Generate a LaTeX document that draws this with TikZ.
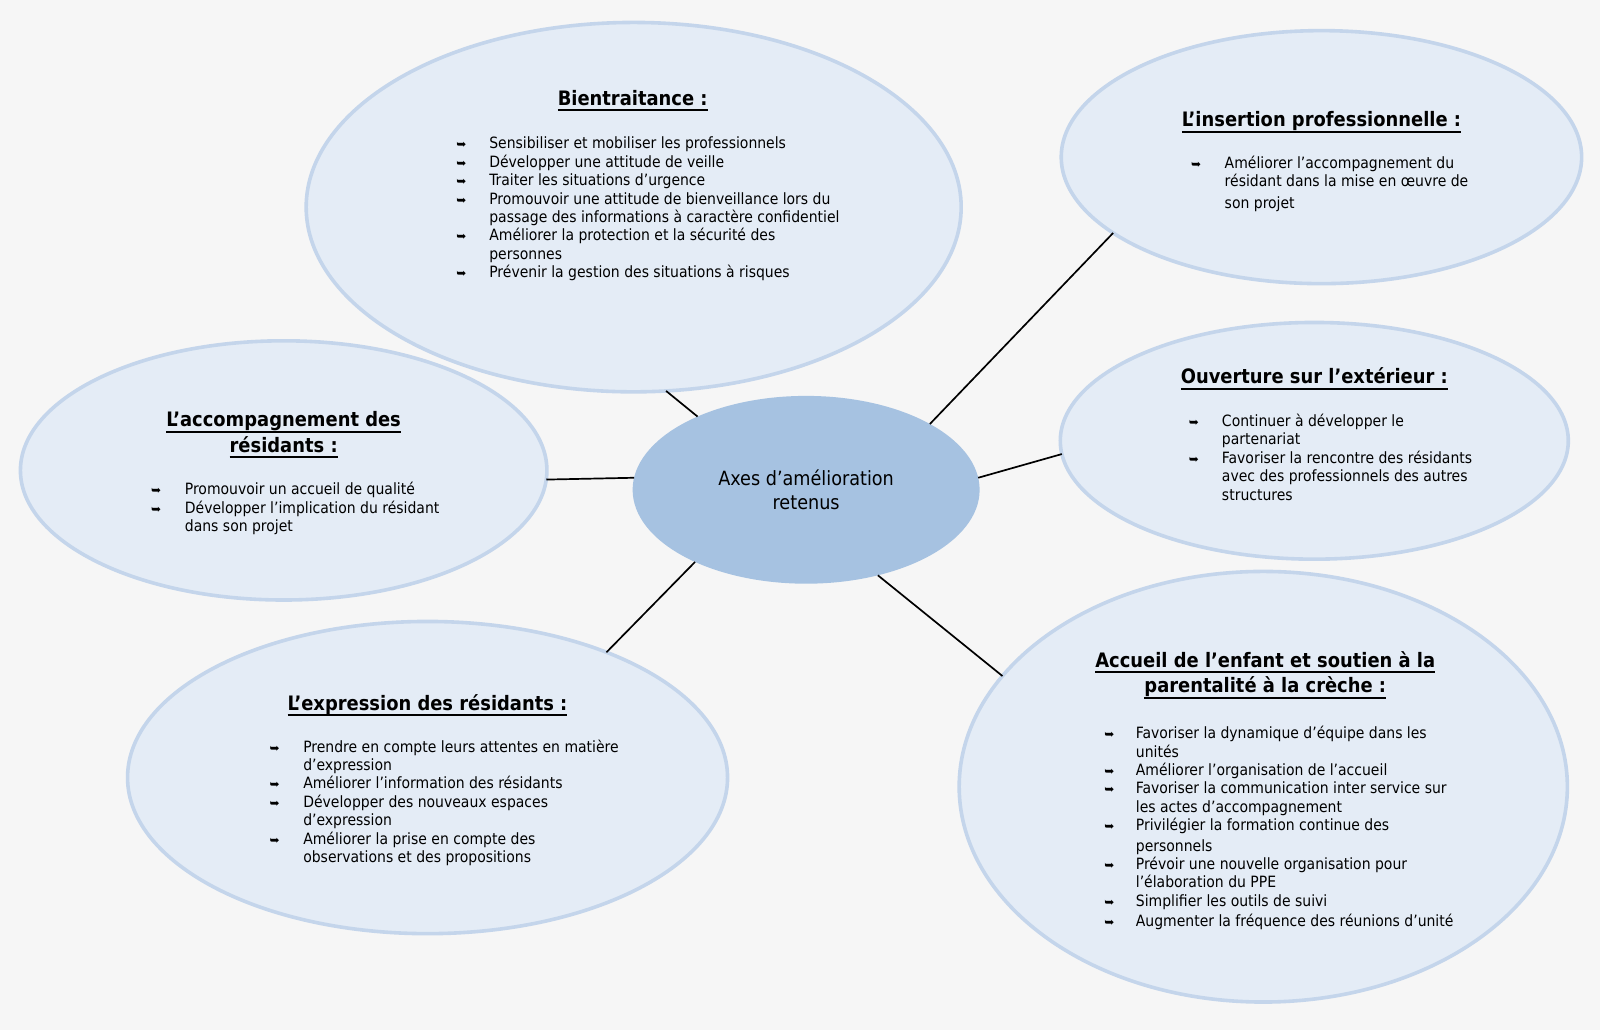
\documentclass[tikz,border=0pt]{standalone}
\usepackage{fontspec}
\setmainfont{DejaVu Sans Condensed}
\newfontfamily\symf{DejaVu Sans}
\usetikzlibrary{shapes.geometric}
\definecolor{bgc}{HTML}{F6F6F6}
\definecolor{ellfill}{HTML}{E4ECF6}
\definecolor{ellline}{HTML}{C4D5EB}
\definecolor{midfill}{HTML}{A6C2E1}
\newcommand\bl{{\symf\fontsize{12}{12}\selectfont ➥}}
\newcommand\myul[1]{\setbox0\hbox{#1}\leavevmode\rlap{\raisebox{-6pt}{\rule{\wd0}{2pt}}}\box0}
\newcommand\itemfont{\fontsize{15.55}{18.4}\selectfont}
\newcommand\titlefont{\fontsize{19.9}{25.5}\selectfont\bfseries}
\begin{document}
\begin{tikzpicture}[x=1.0204pt,y=-1.0204pt,
  axe/.style={ellipse,draw=ellline,fill=ellfill,line width=3.6pt,inner sep=0pt,outer sep=0pt},
  centre/.style={ellipse,fill=midfill,inner sep=0pt,outer sep=0pt,align=center,font=\fontsize{19.6}{23.5}\selectfont},
  ttl/.style={anchor=base,inner sep=0pt,font=\titlefont},
  lst/.style={anchor=base west,inner sep=0pt,font=\itemfont},
  link/.style={line width=1.7pt,black}]
\useasboundingbox[fill=bgc] (0,0) rectangle (1568,1009.4);

\node[axe,minimum width=655pt,minimum height=369.4pt] (bien) at (621,203) {};
\node[axe,minimum width=520.4pt,minimum height=253pt] (ins) at (1295,154) {};
\node[axe,minimum width=508pt,minimum height=236.7pt] (ouv) at (1288,432) {};
\node[axe,minimum width=526.5pt,minimum height=259.2pt] (acc) at (278,461) {};
\node[axe,minimum width=600pt,minimum height=312.2pt] (expr) at (419,762) {};
\node[axe,minimum width=608.2pt,minimum height=430.6pt] (cre) at (1238,771) {};
\node[centre,minimum width=347pt,minimum height=187.8pt] (c) at (790,480) {Axes d’amélioration\\retenus};

\draw[link] (bien.280.7) -- (c.146.7);
\draw[link] (ins.200.6) -- (c.28.7);
\draw[link] (ouv.183.9) -- (c.4.1);
\draw[link] (acc.358.5) -- (c.176);
\draw[link] (expr.35) -- (c.213.3);
\draw[link] (cre.157.4) -- (c.310.8);

% Bientraitance
\node[ttl] (tbien) at (620,103) {\myul{Bientraitance :}};
\node[lst] (lbien) at (447,146) {\begin{tabular}[t]{@{}p{33pt}@{}l@{}}
\bl & Sensibiliser et mobiliser les professionnels\\
\bl & Développer une attitude de veille\\
\bl & Traiter les situations d’urgence\\
\bl & Promouvoir une attitude de bienveillance lors du\\
    & passage des informations à caractère confidentiel\\
\bl & Améliorer la protection et la sécurité des\\
    & personnes\\
\bl & Prévenir la gestion des situations à risques
\end{tabular}};

% Insertion
\node[ttl] (tins) at (1295,124) {\myul{L’insertion professionnelle :}};
\node[lst] (lins) at (1167,165) {\begin{tabular}[t]{@{}p{33.7pt}@{}l@{}}
\bl & Améliorer l’accompagnement du\\
    & résidant dans la mise en œuvre de\\[3pt]
    & son projet
\end{tabular}};

% Ouverture
\node[ttl] (touv) at (1288,376) {\myul{Ouverture sur l’extérieur :}};
\node[lst] (louv) at (1165,418) {\begin{tabular}[t]{@{}p{33pt}@{}l@{}}
\bl & Continuer à développer le\\
    & partenariat\\
\bl & Favoriser la rencontre des résidants\\
    & avec des professionnels des autres\\
    & structures
\end{tabular}};

% Accompagnement
\node[ttl] (tacc) at (278,418) {\begin{tabular}[t]{@{}c@{}}
\myul{L’accompagnement des}\\
\myul{résidants :}
\end{tabular}};
\node[lst] (lacc) at (148,485) {\begin{tabular}[t]{@{}p{33.7pt}@{}l@{}}
\bl & Promouvoir un accueil de qualité\\
\bl & Développer l’implication du résidant\\
    & dans son projet
\end{tabular}};

% Expression
\node[ttl] (texpr) at (419,696) {\myul{L’expression des résidants :}};
\node[lst] (lexpr) at (264,737) {\begin{tabular}[t]{@{}p{33.7pt}@{}l@{}}
\bl & Prendre en compte leurs attentes en matière\\
    & d’expression\\
\bl & Améliorer l’information des résidants\\
\bl & Développer des nouveaux espaces\\
    & d’expression\\
\bl & Améliorer la prise en compte des\\
    & observations et des propositions
\end{tabular}};

% Accueil creche
\node[ttl] (tcre) at (1240,654) {\begin{tabular}[t]{@{}c@{}}
\myul{Accueil de l’enfant et soutien à la}\\
\myul{parentalité à la crèche :}
\end{tabular}};
\node[lst] (lcre) at (1082,724) {\begin{tabular}[t]{@{}p{31.6pt}@{}l@{}}
\bl & Favoriser la dynamique d’équipe dans les\\
    & unités\\
\bl & Améliorer l’organisation de l’accueil\\
\bl & Favoriser la communication inter service sur\\
    & les actes d’accompagnement\\
\bl & Privilégier la formation continue des\\[2pt]
    & personnels\\
\bl & Prévoir une nouvelle organisation pour\\
    & l’élaboration du PPE\\
\bl & Simplifier les outils de suivi\\[2pt]
\bl & Augmenter la fréquence des réunions d’unité
\end{tabular}};
\end{tikzpicture}
\end{document}
